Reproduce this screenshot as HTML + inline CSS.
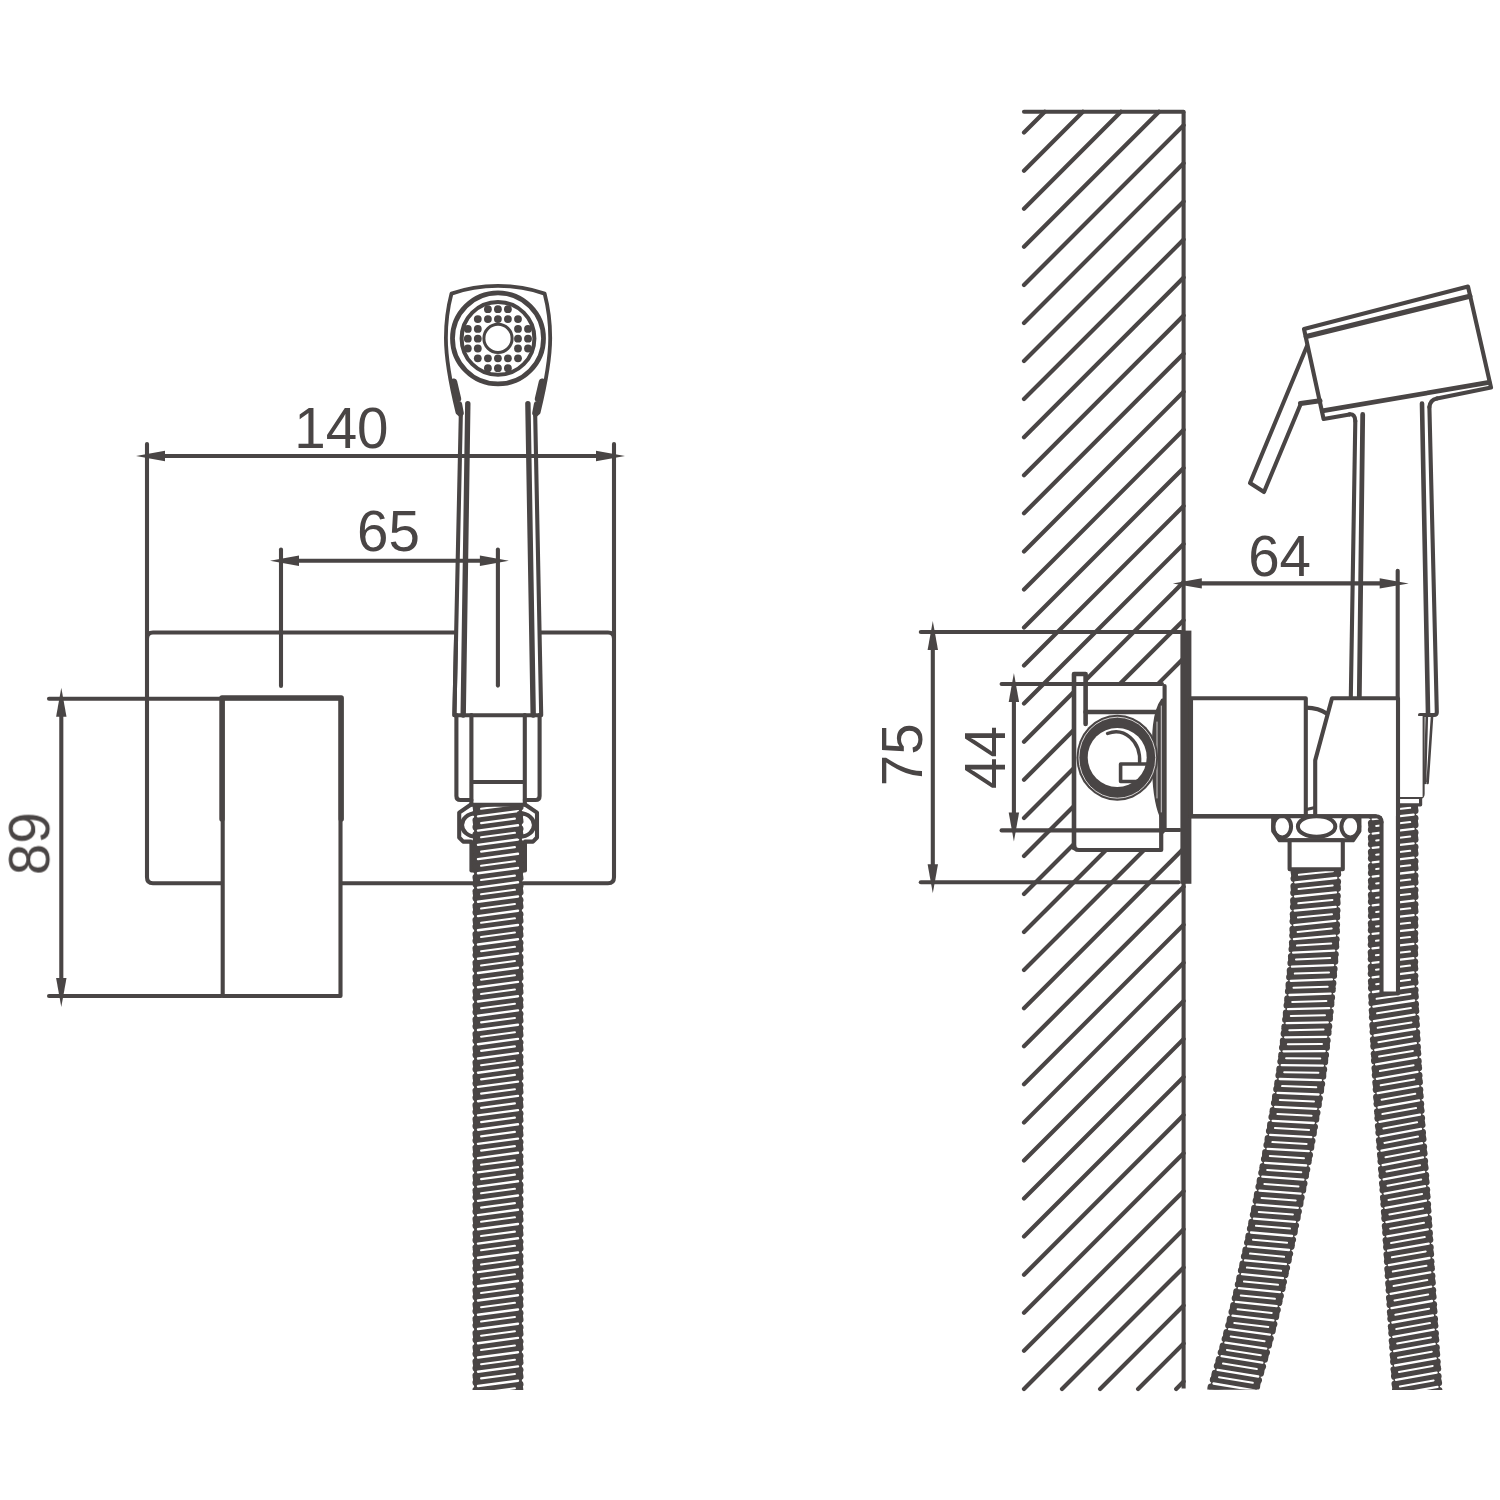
<!DOCTYPE html>
<html lang="en"><head><meta charset="utf-8"><title>Hygienic shower set – dimensional drawing</title>
<style>html,body{margin:0;padding:0;background:#fff}svg{display:block}text{font-family:"Liberation Sans",sans-serif;font-size:56.5px;fill:#4a4544}</style>
</head><body>
<svg width="1500" height="1500" viewBox="0 0 1500 1500">
<rect width="1500" height="1500" fill="#fff"/>
<defs>
<clipPath id="cl1"><rect x="460" y="806" width="80" height="584"/></clipPath>
<clipPath id="cl2"><rect x="1180" y="870" width="200" height="519.5"/></clipPath>
<clipPath id="cl3"><rect x="1350" y="805" width="120" height="584.5"/></clipPath>
<filter id="soft" x="0" y="0" width="1500" height="1500" filterUnits="userSpaceOnUse"><feGaussianBlur stdDeviation="0.42"/></filter>
</defs>
<g filter="url(#soft)">
<!-- front view -->
<path d="M147 444 V877.3 Q147 883.3 153 883.3 H608 Q614 883.3 614 877.3 V444" fill="none" stroke="#4a4544" stroke-width="4.1" stroke-linejoin="round" stroke-linecap="round" />
<path d="M147 638.5 Q147 632.5 153 632.5 H608 Q614 632.5 614 638.5" fill="none" stroke="#4a4544" stroke-width="4.1" stroke-linejoin="round" stroke-linecap="round" />
<rect x="222.7" y="698.3" width="117.8" height="297.7" fill="#fff" stroke="#4a4544" stroke-width="4.1" stroke-linejoin="round"/>
<path d="M222 819 V698 H341.2 V819" fill="none" stroke="#4a4544" stroke-width="5.4" stroke-linejoin="round" stroke-linecap="round" />
<line x1="49" y1="698.8" x2="221" y2="698.8" stroke="#4a4544" stroke-width="4.1" stroke-linecap="round"/>
<line x1="49" y1="996" x2="221" y2="996" stroke="#4a4544" stroke-width="4.1" stroke-linecap="round"/>
<line x1="61.3" y1="705" x2="61.3" y2="990" stroke="#4a4544" stroke-width="4.1" stroke-linecap="round"/>
<polygon points="61.3,687.8 66.5,716.8 56.1,716.8" fill="#4a4544" stroke="none" stroke-width="0" stroke-linejoin="round"/>
<polygon points="61.3,1007 56.1,978 66.5,978" fill="#4a4544" stroke="none" stroke-width="0" stroke-linejoin="round"/>
<polygon points="460.8,414 454.4,715.2 456.4,800 541,800 541.2,715.2 535.2,414" fill="#fff" stroke="none" stroke-width="0" stroke-linejoin="round"/>
<rect x="469.4" y="841.2" width="57.6" height="31.2" rx="2" fill="#4a4544"/>
<g clip-path="url(#cl1)">
<path d="M498 806 L498 809.1 L498 812.5 L498 816.2 L498 820.2 L498 824.5 L498 829.1 L498 833.9 L498 839 L498 844.3 L498 849.8 L498 855.4 L498 861.3 L498 867.3 L498 873.5 L498 879.8 L498 886.2 L498 892.7 L498 899.3 L498 905.9 L498 912.7 L498 919.4 L498 926.2 L498 933 L498 939.8 L498 946.5 L498 953.3 L498 959.9 L498 966.5 L498 973.1 L498 979.5 L498 985.8 L498 992 L498 998 L498 1003.9 L498 1009.9 L498 1015.8 L498 1021.8 L498 1027.7 L498 1033.7 L498 1039.7 L498 1045.7 L498 1051.7 L498 1057.7 L498 1063.7 L498 1069.8 L498 1075.8 L498 1081.8 L498 1087.9 L498 1093.9 L498 1099.9 L498 1106 L498 1112 L498 1118.1 L498 1124.1 L498 1130.1 L498 1136.2 L498 1142.2 L498 1148.2 L498 1154.2 L498 1160.2 L498 1166.2 L498 1172.2 L498 1178.2 L498 1184.2 L498 1190.1 L498 1196 L498 1202 L498 1208 L498 1214.2 L498 1220.6 L498 1227 L498 1233.6 L498 1240.2 L498 1246.9 L498 1253.7 L498 1260.5 L498 1267.3 L498 1274.1 L498 1280.9 L498 1287.7 L498 1294.5 L498 1301.2 L498 1307.8 L498 1314.4 L498 1320.8 L498 1327.1 L498 1333.3 L498 1339.4 L498 1345.3 L498 1351 L498 1356.5 L498 1361.8 L498 1366.9 L498 1371.8 L498 1376.4 L498 1380.7 L498 1384.7 L498 1388.5 L498 1391.9 L498 1395 L498 1395" fill="none" stroke="#4a4544" stroke-width="47.8" stroke-linecap="butt" stroke-linejoin="round"/>
<path d="M475.9 791.9L520.1 786M475.9 798.7L520.1 792.8M475.9 806.1L520.1 800.2M475.9 813L520.1 807.1M475.9 820.4L520.1 814.5M475.9 827.2L520.1 821.3M475.9 834.6L520.1 828.7M475.9 841.4L520.1 835.5M475.9 848.9L520.1 843M475.9 855.7L520.1 849.8M475.9 863.1L520.1 857.2M475.9 869.9L520.1 864M475.9 877.3L520.1 871.4M475.9 884.2L520.1 878.3M475.9 891.6L520.1 885.7M475.9 898.4L520.1 892.5M475.9 905.8L520.1 899.9M475.9 912.6L520.1 906.7M475.9 920.1L520.1 914.2M475.9 926.9L520.1 921M475.9 934.3L520.1 928.4M475.9 941.1L520.1 935.2M475.9 948.5L520.1 942.6M475.9 955.4L520.1 949.5M475.9 962.8L520.1 956.9M475.9 969.6L520.1 963.7M475.9 977L520.1 971.1M475.9 983.8L520.1 977.9M475.9 991.3L520.1 985.4M475.9 998.1L520.1 992.2M475.9 1005.5L520.1 999.6M475.9 1012.3L520.1 1006.4M475.9 1019.7L520.1 1013.8M475.9 1026.6L520.1 1020.7M475.9 1034L520.1 1028.1M475.9 1040.8L520.1 1034.9M475.9 1048.2L520.1 1042.3M475.9 1055L520.1 1049.1M475.9 1062.5L520.1 1056.6M475.9 1069.3L520.1 1063.4M475.9 1076.7L520.1 1070.8M475.9 1083.5L520.1 1077.6M475.9 1090.9L520.1 1085M475.9 1097.8L520.1 1091.9M475.9 1105.2L520.1 1099.3M475.9 1112L520.1 1106.1M475.9 1119.4L520.1 1113.5M475.9 1126.2L520.1 1120.3M475.9 1133.7L520.1 1127.8M475.9 1140.5L520.1 1134.6M475.9 1147.9L520.1 1142M475.9 1154.7L520.1 1148.8M475.9 1162.1L520.1 1156.2M475.9 1169L520.1 1163.1M475.9 1176.4L520.1 1170.5M475.9 1183.2L520.1 1177.3M475.9 1190.6L520.1 1184.7M475.9 1197.4L520.1 1191.5M475.9 1204.9L520.1 1199M475.9 1211.7L520.1 1205.8M475.9 1219.1L520.1 1213.2M475.9 1225.9L520.1 1220M475.9 1233.3L520.1 1227.4M475.9 1240.2L520.1 1234.3M475.9 1247.6L520.1 1241.7M475.9 1254.4L520.1 1248.5M475.9 1261.8L520.1 1255.9M475.9 1268.6L520.1 1262.7M475.9 1276.1L520.1 1270.2M475.9 1282.9L520.1 1277M475.9 1290.3L520.1 1284.4M475.9 1297.1L520.1 1291.2M475.9 1304.5L520.1 1298.6M475.9 1311.4L520.1 1305.5M475.9 1318.8L520.1 1312.9M475.9 1325.6L520.1 1319.7M475.9 1333L520.1 1327.1M475.9 1339.8L520.1 1333.9M475.9 1347.3L520.1 1341.4M475.9 1354.1L520.1 1348.2M475.9 1361.5L520.1 1355.6M475.9 1368.3L520.1 1362.4M475.9 1375.7L520.1 1369.8M475.9 1382.6L520.1 1376.7M475.9 1390L520.1 1384.1M475.9 1396.8L520.1 1390.9M475.9 1404.2L520.1 1398.3M475.9 1411L520.1 1405.1M475.9 1418.5L520.1 1412.6M475.9 1425.3L520.1 1419.4M475.9 1432.7L520.1 1426.8M475.9 1439.5L520.1 1433.6" fill="none" stroke="#4a4544" stroke-width="6.8" stroke-linecap="round"/>
<path d="M473 795.7L523 789M473 809.9L523 803.3M473 824.2L523 817.5M473 838.4L523 831.7M473 852.7L523 846M473 866.9L523 860.2M473 881.1L523 874.5M473 895.4L523 888.7M473 909.6L523 902.9M473 923.9L523 917.2M473 938.1L523 931.4M473 952.3L523 945.7M473 966.6L523 959.9M473 980.8L523 974.1M473 995.1L523 988.4M473 1009.3L523 1002.6M473 1023.5L523 1016.9M473 1037.8L523 1031.1M473 1052L523 1045.3M473 1066.3L523 1059.6M473 1080.5L523 1073.8M473 1094.7L523 1088.1M473 1109L523 1102.3M473 1123.2L523 1116.5M473 1137.5L523 1130.8M473 1151.7L523 1145M473 1165.9L523 1159.3M473 1180.2L523 1173.5M473 1194.4L523 1187.7M473 1208.7L523 1202M473 1222.9L523 1216.2M473 1237.1L523 1230.5M473 1251.4L523 1244.7M473 1265.6L523 1258.9M473 1279.9L523 1273.2M473 1294.1L523 1287.4M473 1308.3L523 1301.7M473 1322.6L523 1315.9M473 1336.8L523 1330.1M473 1351.1L523 1344.4M473 1365.3L523 1358.6M473 1379.5L523 1372.9M473 1393.8L523 1387.1M473 1408L523 1401.3M473 1422.3L523 1415.6M473 1436.5L523 1429.8" fill="none" stroke="#4a4544" stroke-width="5" stroke-linecap="butt"/>
<path d="M478 802.1L518 796.8M478 816.4L518 811.1M478 830.6L518 825.3M478 844.9L518 839.5M478 859.1L518 853.8M478 873.3L518 868M478 887.6L518 882.3M478 901.8L518 896.5M478 916.1L518 910.7M478 930.3L518 925M478 944.5L518 939.2M478 958.8L518 953.5M478 973L518 967.7M478 987.3L518 981.9M478 1001.5L518 996.2M478 1015.7L518 1010.4M478 1030L518 1024.7M478 1044.2L518 1038.9M478 1058.5L518 1053.1M478 1072.7L518 1067.4M478 1086.9L518 1081.6M478 1101.2L518 1095.9M478 1115.4L518 1110.1M478 1129.7L518 1124.3M478 1143.9L518 1138.6M478 1158.1L518 1152.8M478 1172.4L518 1167.1M478 1186.6L518 1181.3M478 1200.9L518 1195.5M478 1215.1L518 1209.8M478 1229.3L518 1224M478 1243.6L518 1238.3M478 1257.8L518 1252.5M478 1272.1L518 1266.7M478 1286.3L518 1281M478 1300.5L518 1295.2M478 1314.8L518 1309.5M478 1329L518 1323.7M478 1343.3L518 1337.9M478 1357.5L518 1352.2M478 1371.7L518 1366.4M478 1386L518 1380.7M478 1400.2L518 1394.9M478 1414.5L518 1409.1M478 1428.7L518 1423.4M478 1442.9L518 1437.6" fill="none" stroke="#fff" stroke-width="2.4" stroke-linecap="round"/>
<path d="M481.1 794.6L514.9 790.1M481.1 808.8L514.9 804.4M481.1 823.1L514.9 818.6M481.1 837.3L514.9 832.8M481.1 851.6L514.9 847.1M481.1 865.8L514.9 861.3M481.1 880L514.9 875.6M481.1 894.3L514.9 889.8M481.1 908.5L514.9 904M481.1 922.8L514.9 918.3M481.1 937L514.9 932.5M481.1 951.2L514.9 946.8M481.1 965.5L514.9 961M481.1 979.7L514.9 975.2M481.1 994L514.9 989.5M481.1 1008.2L514.9 1003.7M481.1 1022.4L514.9 1018M481.1 1036.7L514.9 1032.2M481.1 1050.9L514.9 1046.4M481.1 1065.2L514.9 1060.7M481.1 1079.4L514.9 1074.9M481.1 1093.6L514.9 1089.2M481.1 1107.9L514.9 1103.4M481.1 1122.1L514.9 1117.6M481.1 1136.4L514.9 1131.9M481.1 1150.6L514.9 1146.1M481.1 1164.8L514.9 1160.4M481.1 1179.1L514.9 1174.6M481.1 1193.3L514.9 1188.8M481.1 1207.6L514.9 1203.1M481.1 1221.8L514.9 1217.3M481.1 1236L514.9 1231.6M481.1 1250.3L514.9 1245.8M481.1 1264.5L514.9 1260M481.1 1278.8L514.9 1274.3M481.1 1293L514.9 1288.5M481.1 1307.2L514.9 1302.8M481.1 1321.5L514.9 1317M481.1 1335.7L514.9 1331.2M481.1 1350L514.9 1345.5M481.1 1364.2L514.9 1359.7M481.1 1378.4L514.9 1374M481.1 1392.7L514.9 1388.2M481.1 1406.9L514.9 1402.4M481.1 1421.2L514.9 1416.7M481.1 1435.4L514.9 1430.9" fill="none" stroke="#fff" stroke-width="2.1" stroke-linecap="round"/>
</g>
<path d="M456.4 715 V796 Q456.4 800 460.4 800 H471.4 M539.6 715 V796 Q539.6 800 535.6 800 H524.8" fill="none" stroke="#4a4544" stroke-width="4.1" stroke-linejoin="round" stroke-linecap="round" />
<path d="M471.4 715 V804.7 H524.8 V715 M471.4 782 H524.8" fill="none" stroke="#4a4544" stroke-width="4.1" stroke-linejoin="round" stroke-linecap="round" />
<path d="M471 804.5 L459.2 812.6 V837.5 L463.2 841.6 H471 M525 804.5 L537 812.6 V837.5 L533 841.6 H525" fill="none" stroke="#4a4544" stroke-width="4.1" stroke-linejoin="round" stroke-linecap="round" />
<path d="M477 813.2 C457 813.5 457 836.5 477 836.8 M519 813.2 C539 813.5 539 836.5 519 836.8" fill="none" stroke="#4a4544" stroke-width="4.2" stroke-linejoin="round" stroke-linecap="round" />
<line x1="456" y1="640" x2="454.4" y2="715.2" stroke="#4a4544" stroke-width="4.1" stroke-linecap="round"/>
<path d="M460.8 415.5 L454.4 715.2 H541.2 L535.2 415.5" fill="none" stroke="#4a4544" stroke-width="4.1" stroke-linejoin="round" stroke-linecap="round" />
<path d="M467.8 403.6 L463.2 715" fill="none" stroke="#4a4544" stroke-width="5.4" stroke-linejoin="round" stroke-linecap="round" />
<path d="M527.9 403.6 L533.2 715" fill="none" stroke="#4a4544" stroke-width="5.4" stroke-linejoin="round" stroke-linecap="round" />
<path d="M460.8 415.5 L457.5 412.5 C451.5 388 445.9 362 445.9 338 C445.9 320 448.5 305 451.5 293.6 C480 283.2 516 283.2 544.6 293.6 C547.6 305 550.2 320 550.2 338 C550.2 362 544.6 388 538.6 412.5 L535.2 415.5" fill="none" stroke="#4a4544" stroke-width="3.8" stroke-linejoin="round" stroke-linecap="round" />
<path d="M453.9 381.8 L457.9 398.8" fill="none" stroke="#4a4544" stroke-width="6.6" stroke-linejoin="round" stroke-linecap="round" />
<path d="M459.3 404 L461 413" fill="none" stroke="#4a4544" stroke-width="5.6" stroke-linejoin="round" stroke-linecap="round" />
<path d="M542.1 381.8 L538.1 398.8" fill="none" stroke="#4a4544" stroke-width="6.6" stroke-linejoin="round" stroke-linecap="round" />
<path d="M536.7 404 L535 413" fill="none" stroke="#4a4544" stroke-width="5.6" stroke-linejoin="round" stroke-linecap="round" />
<circle cx="498" cy="338.4" r="45.5" fill="none" stroke="#4a4544" stroke-width="4.8"/>
<circle cx="498" cy="338.4" r="36.4" fill="none" stroke="#4a4544" stroke-width="4"/>
<circle cx="498" cy="338.4" r="14.1" fill="none" stroke="#4a4544" stroke-width="3"/>
<circle cx="487.9" cy="309.2" r="3.9" fill="#4a4544"/>
<circle cx="497.9" cy="309.2" r="3.9" fill="#4a4544"/>
<circle cx="507.9" cy="309.2" r="3.9" fill="#4a4544"/>
<circle cx="477.8" cy="319.1" r="3.9" fill="#4a4544"/>
<circle cx="487.9" cy="319.1" r="3.9" fill="#4a4544"/>
<circle cx="497.9" cy="319.1" r="3.9" fill="#4a4544"/>
<circle cx="507.9" cy="319.1" r="3.9" fill="#4a4544"/>
<circle cx="518" cy="319.1" r="3.9" fill="#4a4544"/>
<circle cx="467.8" cy="328.9" r="3.9" fill="#4a4544"/>
<circle cx="477.8" cy="328.9" r="3.9" fill="#4a4544"/>
<circle cx="518" cy="328.9" r="3.9" fill="#4a4544"/>
<circle cx="528" cy="328.9" r="3.9" fill="#4a4544"/>
<circle cx="467.8" cy="338.7" r="3.9" fill="#4a4544"/>
<circle cx="477.8" cy="338.7" r="3.9" fill="#4a4544"/>
<circle cx="518" cy="338.7" r="3.9" fill="#4a4544"/>
<circle cx="528" cy="338.7" r="3.9" fill="#4a4544"/>
<circle cx="467.8" cy="348.5" r="3.9" fill="#4a4544"/>
<circle cx="477.8" cy="348.5" r="3.9" fill="#4a4544"/>
<circle cx="518" cy="348.5" r="3.9" fill="#4a4544"/>
<circle cx="528" cy="348.5" r="3.9" fill="#4a4544"/>
<circle cx="477.8" cy="358.3" r="3.9" fill="#4a4544"/>
<circle cx="487.9" cy="358.3" r="3.9" fill="#4a4544"/>
<circle cx="497.9" cy="358.3" r="3.9" fill="#4a4544"/>
<circle cx="507.9" cy="358.3" r="3.9" fill="#4a4544"/>
<circle cx="518" cy="358.3" r="3.9" fill="#4a4544"/>
<circle cx="487.9" cy="368.2" r="3.9" fill="#4a4544"/>
<circle cx="497.9" cy="368.2" r="3.9" fill="#4a4544"/>
<circle cx="507.9" cy="368.2" r="3.9" fill="#4a4544"/>
<line x1="152" y1="456" x2="609" y2="456" stroke="#4a4544" stroke-width="4.1" stroke-linecap="round"/>
<polygon points="136,456 165,450.8 165,461.2" fill="#4a4544" stroke="none" stroke-width="0" stroke-linejoin="round"/>
<polygon points="625,456 596,461.2 596,450.8" fill="#4a4544" stroke="none" stroke-width="0" stroke-linejoin="round"/>
<line x1="281" y1="549.6" x2="281" y2="686" stroke="#4a4544" stroke-width="4.1" stroke-linecap="round"/>
<line x1="286" y1="560.8" x2="493" y2="560.8" stroke="#4a4544" stroke-width="4.1" stroke-linecap="round"/>
<polygon points="270,560.8 299,555.6 299,566" fill="#4a4544" stroke="none" stroke-width="0" stroke-linejoin="round"/>
<polygon points="508.9,560.8 479.9,566 479.9,555.6" fill="#4a4544" stroke="none" stroke-width="0" stroke-linejoin="round"/>
<line x1="497.9" y1="549.5" x2="497.9" y2="685.6" stroke="#4a4544" stroke-width="4.1" stroke-linecap="round"/>
<text x="341.4" y="448.1" text-anchor="middle">140</text>
<text x="388.5" y="551" text-anchor="middle">65</text>
<text transform="translate(49.2 843.6) rotate(-90)" text-anchor="middle">89</text>
<!-- side view -->
<path d="M1024 132.6L1044.8 111.8M1024 170.7L1082.9 111.8M1024 208.7L1120.9 111.8M1024 246.8L1159 111.8M1024 284.9L1183.6 125.3M1024 322.9L1183.6 163.3M1024 361L1183.6 201.4M1024 399.1L1183.6 239.5M1024 437.2L1183.6 277.6M1024 475.2L1183.6 315.6M1024 513.3L1183.6 353.7M1024 551.4L1183.6 391.8M1024 589.4L1183.6 429.8M1024 627.5L1183.6 467.9M1024 665.6L1183.6 506M1024 703.6L1183.6 544M1024 741.7L1183.6 582.1M1024 779.8L1183.6 620.2M1024 817.9L1183.6 658.3M1024 855.9L1183.6 696.3M1024 894L1183.6 734.4M1024 932.1L1183.6 772.5M1024 970.1L1183.6 810.5M1024 1008.2L1183.6 848.6M1024 1046.3L1183.6 886.7M1024 1084.3L1183.6 924.8M1024 1122.4L1183.6 962.8M1024 1160.5L1183.6 1000.9M1024 1198.6L1183.6 1039M1024 1236.6L1183.6 1077M1024 1274.7L1183.6 1115.1M1024 1312.8L1183.6 1153.2M1024 1350.8L1183.6 1191.2M1024 1388.9L1183.6 1229.3M1062 1389L1183.6 1267.4M1100.1 1389L1183.6 1305.5M1138.1 1389L1183.6 1343.5M1176.2 1389L1183.6 1381.6" fill="none" stroke="#4a4544" stroke-width="4.2" stroke-linecap="round"/>
<line x1="1024" y1="111.8" x2="1183.6" y2="111.8" stroke="#4a4544" stroke-width="4.1" stroke-linecap="round"/>
<line x1="1183.6" y1="111.8" x2="1183.6" y2="1388.5" stroke="#4a4544" stroke-width="4.1" stroke-linecap="butt"/>
<polygon points="1072.2,672 1087,672 1087,684 1181,684 1181,831 1163,831 1163,851.5 1072.2,851.5" fill="#fff" stroke="none" stroke-width="0" stroke-linejoin="round"/>
<line x1="920.8" y1="632" x2="1181" y2="632" stroke="#4a4544" stroke-width="4.1" stroke-linecap="round"/>
<line x1="920.8" y1="882.2" x2="1178.6" y2="882.2" stroke="#4a4544" stroke-width="4.1" stroke-linecap="round"/>
<line x1="932.8" y1="638" x2="932.8" y2="876" stroke="#4a4544" stroke-width="4.1" stroke-linecap="round"/>
<polygon points="932.8,621 938,650 927.6,650" fill="#4a4544" stroke="none" stroke-width="0" stroke-linejoin="round"/>
<polygon points="932.8,893.2 927.6,864.2 938,864.2" fill="#4a4544" stroke="none" stroke-width="0" stroke-linejoin="round"/>
<line x1="1001.6" y1="684" x2="1162" y2="684" stroke="#4a4544" stroke-width="4.1" stroke-linecap="round"/>
<line x1="1001.6" y1="830.4" x2="1163" y2="830.4" stroke="#4a4544" stroke-width="4.1" stroke-linecap="round"/>
<line x1="1013.9" y1="690" x2="1013.9" y2="824" stroke="#4a4544" stroke-width="4.1" stroke-linecap="round"/>
<polygon points="1013.9,673 1019.1,702 1008.7,702" fill="#4a4544" stroke="none" stroke-width="0" stroke-linejoin="round"/>
<polygon points="1013.9,841.4 1008.7,812.4 1019.1,812.4" fill="#4a4544" stroke="none" stroke-width="0" stroke-linejoin="round"/>
<rect x="1180.4" y="630.6" width="11" height="253.2" fill="#4a4544"/>
<path d="M1074 848 V674 H1085.6 V724" fill="none" stroke="#4a4544" stroke-width="4.6" stroke-linejoin="round" stroke-linecap="round" />
<path d="M1074 845 Q1074 850 1079 850 H1161.2 V813" fill="none" stroke="#4a4544" stroke-width="4.2" stroke-linejoin="round" stroke-linecap="round" />
<path d="M1085.6 712 H1157" fill="none" stroke="#4a4544" stroke-width="4.6" stroke-linejoin="round" stroke-linecap="round" />
<path d="M1164.6 686 V830 H1179.8" fill="none" stroke="#4a4544" stroke-width="4.1" stroke-linejoin="round" stroke-linecap="round" />
<path d="M1162 699.5 C1153 712 1152.6 735 1152.8 760 C1153 790 1156 806 1160.6 816.5 L1164.6 816.5 L1164.6 699.5 Z" fill="#4a4544" stroke="#4a4544" stroke-width="2" stroke-linejoin="round" stroke-linecap="round" />
<path d="M1157 722 V798" fill="none" stroke="#dddada" stroke-width="0.9" stroke-linejoin="round" stroke-linecap="round" />
<path d="M1161.3 706 V812" fill="none" stroke="#dddada" stroke-width="0.9" stroke-linejoin="round" stroke-linecap="round" />
<ellipse cx="1117.3" cy="757.7" rx="40.8" ry="43" fill="#4a4544"/>
<ellipse cx="1117.3" cy="757.7" rx="38.4" ry="40.5" fill="none" stroke="#e4e2e2" stroke-width="0.9"/>
<circle cx="1117.2" cy="757.4" r="29.5" fill="#fff"/>
<path d="M1107.5 733.5 C1124 727 1141 741 1139.6 763" fill="none" stroke="#4a4544" stroke-width="3.4" stroke-linejoin="round" stroke-linecap="round" />
<path d="M1148 764 H1120.6 V781.5 H1141" fill="none" stroke="#4a4544" stroke-width="3.6" stroke-linejoin="round" stroke-linecap="round" />
<rect x="1191" y="698.3" width="114.8" height="118" fill="#fff" stroke="#4a4544" stroke-width="4.1" stroke-linejoin="round"/>
<path d="M1306 707.6 C1314 707.6 1322 710 1327.5 714" fill="none" stroke="#4a4544" stroke-width="4.1" stroke-linejoin="round" stroke-linecap="round" />
<path d="M1306.5 809.5 L1315 807.5" fill="none" stroke="#4a4544" stroke-width="3" stroke-linejoin="round" stroke-linecap="round" />
<g clip-path="url(#cl3)">
<path d="M1393.2 806 L1393.2 809.1 L1393.2 812.9 L1393.2 817.2 L1393.2 822.1 L1393.2 827.3 L1393.2 833 L1393.2 838.9 L1393.2 845.1 L1393.2 851.5 L1393.2 858 L1393.2 864.5 L1393.2 871.1 L1393.2 877.6 L1393.2 884 L1393.2 890.2 L1393.2 896.2 L1393.2 901.9 L1393.2 907.4 L1393.2 913 L1393.1 918.4 L1393.1 923.9 L1393.1 929.3 L1393 934.8 L1393 940.2 L1393 945.7 L1393 951.2 L1392.9 956.7 L1393 962.2 L1393 967.8 L1393 973.5 L1393.1 979.3 L1393.2 985.1 L1393.3 991 L1393.5 997 L1393.7 1003.2 L1393.9 1009.4 L1394.2 1015.7 L1394.4 1022.1 L1394.7 1028.6 L1395 1035.1 L1395.4 1041.7 L1395.7 1048.3 L1396 1054.8 L1396.4 1061.4 L1396.8 1068 L1397.1 1074.5 L1397.5 1081 L1397.9 1087.4 L1398.2 1093.7 L1398.6 1100 L1399 1106.2 L1399.4 1112.3 L1399.8 1118.4 L1400.2 1124.5 L1400.6 1130.5 L1401 1136.5 L1401.4 1142.5 L1401.9 1148.5 L1402.3 1154.4 L1402.7 1160.3 L1403.2 1166.3 L1403.6 1172.2 L1404 1178.1 L1404.4 1184.1 L1404.8 1190 L1405.2 1196 L1405.6 1202 L1406 1208 L1406.4 1214 L1406.8 1220.1 L1407.1 1226.1 L1407.5 1232.2 L1407.8 1238.2 L1408.2 1244.3 L1408.6 1250.3 L1408.9 1256.3 L1409.3 1262.4 L1409.6 1268.4 L1410 1274.4 L1410.3 1280.3 L1410.7 1286.3 L1411 1292.2 L1411.4 1298 L1411.7 1304 L1412.1 1310.1 L1412.5 1316.5 L1412.9 1323 L1413.3 1329.6 L1413.8 1336.3 L1414.2 1342.9 L1414.6 1349.5 L1415 1355.9 L1415.4 1362.1 L1415.8 1368 L1416.1 1373.6 L1416.5 1378.9 L1416.8 1383.7 L1417.1 1388 L1417.3 1391.8 L1417.5 1395 L1417.5 1395" fill="none" stroke="#4a4544" stroke-width="45.8" stroke-linecap="butt" stroke-linejoin="round"/>
<path d="M1371.3 794.4L1415.1 789.4M1371.3 801.3L1415.1 796.3M1371.3 808.8L1415.1 803.8M1371.3 815.6L1415.1 810.7M1371.3 823.1L1415.1 818.1M1371.3 830L1415.1 825M1371.3 837.5L1415.1 832.5M1371.3 844.3L1415.1 839.4M1371.3 851.8L1415.1 846.9M1371.3 858.7L1415.1 853.7M1371.3 866.2L1415.1 861.2M1371.3 873.1L1415.1 868.1M1371.3 880.6L1415.1 875.6M1371.3 887.4L1415.1 882.4M1371.3 894.9L1415.1 889.9M1371.3 901.8L1415.1 896.8M1371.3 909.2L1415.1 904.3M1371.3 916.1L1415.1 911.3M1371.2 923.5L1415 918.8M1371.2 930.4L1415 925.7M1371.1 937.8L1414.9 933.2M1371.1 944.8L1414.9 940M1371.1 952.3L1414.9 947.4M1371.1 959.2L1414.8 954.2M1371.1 966.8L1414.8 961.6M1371.1 973.8L1414.9 968.4M1371.3 981.4L1415 975.8M1371.4 988.4L1415.1 982.5M1371.6 996L1415.2 989.9M1371.8 1003L1415.4 996.6M1372.1 1010.6L1415.6 1004M1372.3 1017.5L1415.9 1010.8M1372.7 1025.1L1416.2 1018.2M1373 1032L1416.5 1025M1373.3 1039.5L1416.8 1032.4M1373.7 1046.4L1417.2 1039.3M1374.1 1054L1417.5 1046.7M1374.4 1060.9L1417.9 1053.5M1374.9 1068.4L1418.3 1061M1375.2 1075.3L1418.7 1067.8M1375.7 1082.7L1419.1 1075.3M1376.1 1089.6L1419.5 1082.1M1376.5 1097.1L1419.9 1089.6M1376.9 1104L1420.3 1096.4M1377.4 1111.5L1420.8 1103.8M1377.8 1118.4L1421.2 1110.6M1378.3 1126L1421.7 1118M1378.8 1132.9L1422.1 1124.9M1379.3 1140.4L1422.6 1132.3M1379.8 1147.3L1423.1 1139.1M1380.4 1154.7L1423.7 1146.6M1380.9 1161.6L1424.2 1153.4M1381.4 1169L1424.7 1160.9M1381.9 1175.9L1425.2 1167.8M1382.4 1183.3L1425.8 1175.3M1382.9 1190.2L1426.2 1182.2M1383.4 1197.6L1426.8 1189.7M1383.8 1204.4L1427.2 1196.6M1384.3 1211.8L1427.7 1204.1M1384.7 1218.7L1428.1 1211M1385.2 1226.1L1428.6 1218.5M1385.6 1232.9L1429 1225.4M1386 1240.4L1429.5 1232.8M1386.5 1247.3L1429.9 1239.7M1386.9 1254.7L1430.3 1247.2M1387.3 1261.6L1430.7 1254.1M1387.7 1269.1L1431.1 1261.5M1388.1 1275.9L1431.5 1268.4M1388.6 1283.4L1432 1275.8M1389 1290.3L1432.4 1282.7M1389.4 1297.8L1432.8 1290.1M1389.9 1304.7L1433.2 1297M1390.3 1312.1L1433.7 1304.4M1390.7 1319L1434.1 1311.3M1391.2 1326.5L1434.6 1318.8M1391.7 1333.4L1435 1325.6M1392.1 1340.8L1435.5 1333.1M1392.6 1347.7L1435.9 1339.9M1393 1355.2L1436.4 1347.4M1393.5 1362L1436.8 1354.3M1393.9 1369.5L1437.3 1361.7M1394.4 1376.4L1437.8 1368.6M1394.9 1383.8L1438.2 1376.1M1395.3 1390.7L1438.7 1382.9M1395.8 1398.1L1439.1 1390.4M1396.2 1405L1439.6 1397.3M1396.7 1412.5L1440 1404.7M1397.1 1419.3L1440.5 1411.6M1397.6 1426.8L1441 1419.1M1398 1433.7L1441.4 1425.9M1398.5 1441.1L1441.9 1433.4M1398.9 1448L1442.3 1440.3" fill="none" stroke="#4a4544" stroke-width="6.8" stroke-linecap="round"/>
<path d="M1368.4 798.2L1418 792.5M1368.4 812.5L1418 806.9M1368.4 826.9L1418 821.2M1368.4 841.2L1418 835.6M1368.4 855.6L1418 850M1368.4 870L1418 864.3M1368.4 884.3L1418 878.7M1368.4 898.7L1418 893M1368.4 913L1418 907.5M1368.3 927.2L1417.9 921.9M1368.2 941.6L1417.8 936.3M1368.1 956.1L1417.8 950.5M1368.2 970.6L1417.8 964.7M1368.4 985.3L1417.9 978.8M1368.8 999.9L1418.2 992.8M1369.3 1014.5L1418.7 1007M1369.9 1029L1419.2 1021.2M1370.6 1043.5L1419.9 1035.4M1371.4 1057.9L1420.6 1049.6M1372.2 1072.3L1421.4 1063.9M1373 1086.7L1422.2 1078.2M1373.8 1101L1423 1092.5M1374.7 1115.5L1423.8 1106.7M1375.7 1129.9L1424.8 1120.9M1376.7 1144.3L1425.8 1135.2M1377.7 1158.7L1426.8 1149.5M1378.8 1173L1427.8 1163.8M1379.8 1187.3L1428.9 1178.2M1380.7 1201.5L1429.9 1192.6M1381.6 1215.7L1430.8 1207M1382.5 1230L1431.7 1221.4M1383.4 1244.3L1432.5 1235.8M1384.2 1258.7L1433.4 1250.1M1385 1273L1434.2 1264.5M1385.9 1287.3L1435.1 1278.8M1386.8 1301.7L1435.9 1293.1M1387.6 1316.1L1436.8 1307.4M1388.5 1330.4L1437.7 1321.7M1389.5 1344.8L1438.6 1336M1390.4 1359.1L1439.5 1350.3M1391.3 1373.4L1440.4 1364.7M1392.2 1387.8L1441.3 1379M1393.1 1402.1L1442.2 1393.3M1394 1416.4L1443.1 1407.7M1394.9 1430.8L1444.1 1422M1395.8 1445.1L1445 1436.3" fill="none" stroke="#4a4544" stroke-width="5" stroke-linecap="butt"/>
<path d="M1372.8 804.8L1413.7 800.2M1372.7 819.2L1413.6 814.6M1372.7 833.6L1413.6 828.9M1372.7 847.9L1413.6 843.3M1372.7 862.3L1413.6 857.6M1372.7 876.7L1413.6 872M1372.7 891L1413.6 886.3M1372.7 905.4L1413.7 900.7M1372.7 919.6L1413.6 915.2M1372.6 933.9L1413.5 929.6M1372.5 948.4L1413.4 943.9M1372.5 962.9L1413.4 958.1M1372.6 977.4L1413.5 972.3M1372.9 992L1413.7 986.4M1373.4 1006.6L1414.1 1000.5M1373.9 1021.1L1414.6 1014.7M1374.6 1035.5L1415.2 1029M1375.3 1050L1415.9 1043.2M1376.1 1064.4L1416.7 1057.5M1376.9 1078.8L1417.5 1071.8M1377.7 1093.1L1418.3 1086.1M1378.6 1107.5L1419.1 1100.4M1379.5 1121.9L1420 1114.6M1380.5 1136.4L1421 1128.8M1381.5 1150.7L1422 1143.1M1382.6 1165.1L1423 1157.4M1383.6 1179.3L1424.1 1171.8M1384.6 1193.6L1425.1 1186.2M1385.5 1207.8L1426 1200.6M1386.4 1222.1L1426.9 1215M1387.3 1236.4L1427.8 1229.3M1388.1 1250.7L1428.7 1243.7M1388.9 1265.1L1429.5 1258M1389.8 1279.4L1430.3 1272.4M1390.6 1293.8L1431.2 1286.7M1391.5 1308.1L1432 1301M1392.4 1322.5L1432.9 1315.3M1393.3 1336.8L1433.8 1329.6M1394.2 1351.2L1434.7 1343.9M1395.1 1365.5L1435.7 1358.3M1396 1379.8L1436.6 1372.6M1397 1394.2L1437.5 1386.9M1397.9 1408.5L1438.4 1401.3M1398.8 1422.8L1439.3 1415.6M1399.7 1437.2L1440.2 1429.9M1400.6 1451.5L1441.1 1444.3" fill="none" stroke="#fff" stroke-width="2.3" stroke-linecap="round"/>
<path d="M1376.2 797.3L1410.2 793.4M1376.2 811.6L1410.2 807.8M1376.2 826L1410.2 822.1M1376.2 840.4L1410.2 836.5M1376.2 854.7L1410.2 850.8M1376.2 869.1L1410.2 865.2M1376.2 883.4L1410.2 879.6M1376.2 897.8L1410.2 893.9M1376.2 912.1L1410.2 908.3M1376.1 926.4L1410.1 922.8M1376 940.8L1410 937.1M1375.9 955.2L1410 951.4M1376 969.7L1410 965.6M1376.2 984.2L1410.1 979.8M1376.6 998.8L1410.4 993.9M1377.1 1013.3L1410.9 1008.1M1377.7 1027.8L1411.5 1022.4M1378.4 1042.2L1412.1 1036.6M1379.1 1056.6L1412.9 1050.9M1379.9 1071L1413.6 1065.2M1380.7 1085.3L1414.4 1079.5M1381.6 1099.7L1415.3 1093.8M1382.4 1114.1L1416.1 1108.1M1383.4 1128.5L1417.1 1122.3M1384.4 1142.9L1418 1136.6M1385.5 1157.3L1419.1 1150.9M1386.5 1171.6L1420.1 1165.2M1387.5 1185.8L1421.2 1179.6M1388.5 1200.1L1422.1 1194M1389.4 1214.4L1423.1 1208.4M1390.2 1228.7L1424 1222.8M1391.1 1243L1424.8 1237.1M1391.9 1257.3L1425.7 1251.5M1392.8 1271.6L1426.5 1265.8M1393.6 1286L1427.3 1280.1M1394.5 1300.4L1428.2 1294.4M1395.4 1314.7L1429.1 1308.7M1396.3 1329.1L1430 1323.1M1397.2 1343.4L1430.9 1337.4M1398.1 1357.7L1431.8 1351.7M1399 1372.1L1432.7 1366M1399.9 1386.4L1433.6 1380.4M1400.8 1400.7L1434.5 1394.7M1401.7 1415L1435.4 1409M1402.6 1429.4L1436.3 1423.4M1403.5 1443.7L1437.2 1437.7" fill="none" stroke="#fff" stroke-width="2.0" stroke-linecap="round"/>
</g>
<g clip-path="url(#cl2)">
<path d="M1316 868 L1316 870.2 L1315.9 872.9 L1315.9 876.1 L1315.8 879.6 L1315.7 883.5 L1315.6 887.6 L1315.6 891.9 L1315.5 896.3 L1315.4 900.7 L1315.3 905 L1315.2 909.2 L1315.1 913.1 L1314.9 916.8 L1314.9 920.1 L1314.8 923.2 L1314.7 926.2 L1314.7 929.1 L1314.6 932 L1314.5 935 L1314.4 938.1 L1314.3 941.6 L1314.1 945.4 L1313.8 949.7 L1313.4 954.5 L1313 960 L1312.5 966.2 L1311.9 973.1 L1311.2 980.6 L1310.5 988.6 L1309.7 997 L1308.9 1005.6 L1308 1014.4 L1307.2 1023.2 L1306.2 1031.9 L1305.3 1040.4 L1304.4 1048.6 L1303.5 1056.3 L1302.5 1063.6 L1301.6 1070.7 L1300.6 1077.6 L1299.5 1084.4 L1298.5 1091.1 L1297.4 1097.7 L1296.3 1104.1 L1295.2 1110.4 L1294.2 1116.6 L1293.1 1122.6 L1292 1128.5 L1291 1134.3 L1290 1140 L1289 1145.5 L1288.1 1150.7 L1287.2 1155.8 L1286.2 1160.7 L1285.3 1165.4 L1284.4 1170.1 L1283.5 1174.7 L1282.7 1179.2 L1281.8 1183.8 L1280.8 1188.3 L1279.9 1192.9 L1279 1197.6 L1278 1202.4 L1277.1 1207.1 L1276.1 1211.8 L1275.2 1216.5 L1274.2 1221.2 L1273.3 1225.9 L1272.3 1230.6 L1271.3 1235.3 L1270.3 1240.1 L1269.3 1244.9 L1268.2 1249.8 L1267.1 1254.9 L1266 1260 L1264.8 1265.3 L1263.7 1270.7 L1262.5 1276.2 L1261.2 1281.8 L1260 1287.5 L1258.7 1293.3 L1257.4 1299 L1256.1 1304.8 L1254.8 1310.5 L1253.4 1316.2 L1252.1 1321.8 L1250.7 1327.3 L1249.3 1332.7 L1247.8 1338.4 L1246.2 1344.4 L1244.5 1350.4 L1242.8 1356.5 L1241 1362.5 L1239.3 1368.3 L1237.7 1373.9 L1236.1 1379.2 L1234.7 1384 L1233.4 1388.3 L1232.4 1392 L1231.5 1395 L1231.5 1395" fill="none" stroke="#4a4544" stroke-width="45.8" stroke-linecap="butt" stroke-linejoin="round"/>
<path d="M1294.3 857.5L1338.2 853M1294.2 864.4L1338.1 859.9M1294 871.8L1337.9 867.3M1293.9 878.7L1337.8 874.1M1293.8 886.2L1337.7 881.6M1293.6 893L1337.5 888.5M1293.5 900.4L1337.4 895.9M1293.3 907.2L1337.2 902.9M1293.1 914.5L1337.1 910.4M1292.9 921.5L1336.8 917.2M1292.8 929.1L1336.7 924.5M1292.6 935.7L1336.6 931.5M1292.3 942.7L1336.3 939.4M1291.9 949.2L1335.9 946.6M1291.3 956.3L1335.4 954.3M1290.8 963L1334.9 961.3M1290.1 970.4L1334.2 968.8M1289.5 977.2L1333.7 975.6M1288.9 984.5L1333 983.1M1288.3 991.3L1332.4 990M1287.6 998.7L1331.7 997.4M1286.9 1005.5L1331 1004.3M1286.2 1012.8L1330.3 1011.8M1285.5 1019.6L1329.6 1018.6M1284.7 1026.9L1328.9 1026.1M1284 1033.7L1328.2 1033M1283.2 1041L1327.3 1040.5M1282.4 1047.7L1326.6 1047.4M1281.6 1055L1325.7 1054.9M1280.7 1061.6L1324.8 1061.9M1279.7 1068.8L1323.8 1069.5M1278.8 1075.4L1322.9 1076.4M1277.7 1082.6L1321.8 1083.9M1276.6 1089.2L1320.7 1090.9M1275.4 1096.5L1319.5 1098.3M1274.3 1103.1L1318.4 1105.2M1273 1110.4L1317.1 1112.6M1271.8 1117.1L1315.9 1119.4M1270.5 1124.4L1314.6 1126.8M1269.3 1131.1L1313.4 1133.5M1268 1138.5L1312.1 1140.8M1266.8 1145.2L1310.9 1147.6M1265.5 1152.4L1309.6 1155M1264.3 1159.1L1308.3 1161.9M1262.9 1166.3L1306.9 1169.3M1261.6 1172.9L1305.6 1176.1M1260.1 1180.2L1304.1 1183.4M1258.8 1186.9L1302.8 1190.2M1257.3 1194.2L1301.3 1197.5M1256 1200.9L1300 1204.2M1254.5 1208.2L1298.5 1211.5M1253.2 1214.8L1297.2 1218.3M1251.7 1222.1L1295.7 1225.6M1250.3 1228.7L1294.3 1232.4M1248.8 1236L1292.7 1239.8M1247.4 1242.6L1291.3 1246.5M1245.8 1249.9L1289.8 1253.8M1244.3 1256.5L1288.3 1260.6M1242.8 1263.8L1286.7 1267.9M1241.3 1270.5L1285.2 1274.6M1239.7 1277.7L1283.6 1281.9M1238.2 1284.4L1282.2 1288.6M1236.6 1291.6L1280.5 1295.9M1235.1 1298.2L1279 1302.7M1233.5 1305.4L1277.4 1310M1231.9 1311.9L1275.8 1316.8M1230.2 1319L1274 1324.2M1228.6 1325.5L1272.3 1331M1226.7 1332.5L1270.4 1338.5M1225 1338.9L1268.6 1345.3M1223 1345.9L1266.6 1352.6M1221.1 1352.4L1264.7 1359.3M1219.1 1359.5L1262.7 1366.5M1217.2 1366L1260.7 1373.2M1215.1 1373.1L1258.6 1380.3M1213.2 1379.7L1256.7 1386.9M1211 1386.9L1254.6 1394M1209.1 1393.6L1252.7 1400.5M1207.1 1400.8L1250.7 1407.6M1205.2 1407.4L1248.8 1414.2M1203.1 1414.5L1246.8 1421.4M1201.3 1421.1L1244.9 1428M1199.2 1428.3L1242.8 1435.1M1197.3 1434.9L1240.9 1441.7" fill="none" stroke="#4a4544" stroke-width="6.8" stroke-linecap="round"/>
<path d="M1291.3 861.2L1341.1 856.2M1291.1 875.6L1340.8 870.4M1290.8 889.9L1340.5 884.7M1290.5 904.1L1340.2 899.1M1290.1 918.2L1339.9 913.6M1289.8 932.7L1339.5 927.7M1289.2 946.1L1339 942.8M1288.1 959.8L1338.1 957.7M1286.9 973.9L1336.9 972.1M1285.7 988L1335.6 986.4M1284.3 1002.1L1334.3 1000.8M1282.9 1016.3L1332.9 1015.1M1281.5 1030.4L1331.4 1029.5M1279.9 1044.4L1329.9 1043.9M1278.2 1058.3L1328.2 1058.4M1276.3 1072L1326.3 1073M1274.2 1085.8L1324.2 1087.5M1271.9 1099.7L1321.8 1101.9M1269.5 1113.6L1319.4 1116.2M1267 1127.6L1316.9 1130.3M1264.5 1141.7L1314.4 1144.3M1262 1155.6L1311.9 1158.6M1259.3 1169.4L1309.2 1172.9M1256.6 1183.3L1306.4 1187M1253.7 1197.3L1303.6 1201.1M1250.9 1211.3L1300.8 1215.1M1248.1 1225.2L1297.9 1229.3M1245.2 1239.1L1294.9 1243.4M1242.2 1252.9L1291.9 1257.5M1239.1 1266.9L1288.9 1271.5M1236.1 1280.8L1285.8 1285.5M1233 1294.6L1282.7 1299.6M1229.8 1308.3L1279.5 1313.7M1226.5 1321.9L1276.1 1328M1223 1335.3L1272.4 1342.3M1219.2 1348.7L1268.6 1356.4M1215.3 1362.3L1264.6 1370.3M1211.2 1375.9L1260.5 1384.1M1207.2 1389.8L1256.5 1397.7M1203.3 1403.6L1252.6 1411.4M1199.3 1417.4L1248.7 1425.1M1195.4 1431.1L1244.8 1438.9" fill="none" stroke="#4a4544" stroke-width="5" stroke-linecap="butt"/>
<path d="M1295.5 867.9L1336.5 863.8M1295.3 882.3L1336.3 878M1295 896.5L1336 892.3M1294.7 910.7L1335.7 906.8M1294.3 925.2L1335.3 920.9M1293.9 939.1L1335 935.6M1293.1 952.7L1334.2 950.6M1291.9 966.6L1333.1 965.1M1290.7 980.8L1331.9 979.4M1289.4 995L1330.6 993.7M1288 1009.1L1329.2 1008.1M1286.6 1023.2L1327.8 1022.4M1285.1 1037.3L1326.3 1036.8M1283.5 1051.3L1324.7 1051.2M1281.7 1065.2L1322.9 1065.7M1279.7 1079L1320.9 1080.1M1277.5 1092.9L1318.6 1094.5M1275.1 1106.8L1316.3 1108.8M1272.6 1120.8L1313.8 1123M1270.1 1134.9L1311.3 1137.1M1267.6 1148.9L1308.8 1151.2M1265 1162.8L1306.2 1165.5M1262.3 1176.7L1303.4 1179.7M1259.5 1190.6L1300.6 1193.7M1256.7 1204.6L1297.8 1207.8M1253.9 1218.6L1295 1221.9M1251 1232.5L1292.1 1236M1248 1246.4L1289.1 1250M1245 1260.3L1286 1264.1M1242 1274.2L1283 1278.1M1238.9 1288.1L1279.9 1292.1M1235.8 1301.9L1276.7 1306.2M1232.5 1315.6L1273.4 1320.3M1229.1 1329.2L1269.9 1334.6M1225.4 1342.6L1266.2 1348.7M1221.6 1356.2L1262.3 1362.7M1217.6 1369.8L1258.2 1376.5M1213.5 1383.5L1254.2 1390.3M1209.5 1397.4L1250.3 1403.8M1205.6 1411.2L1246.3 1417.6M1201.7 1424.9L1242.4 1431.3M1197.8 1438.7L1238.5 1445.1" fill="none" stroke="#fff" stroke-width="2.3" stroke-linecap="round"/>
<path d="M1299.2 860.4L1333.2 857M1298.9 874.8L1332.9 871.2M1298.6 889.1L1332.7 885.5M1298.3 903.3L1332.4 899.9M1297.9 917.5L1332 914.3M1297.6 931.9L1331.7 928.5M1297 945.6L1331.2 943.4M1296 959.4L1330.2 958M1294.8 973.6L1329 972.4M1293.5 987.8L1327.7 986.7M1292.2 1001.9L1326.4 1001M1290.8 1016.1L1325 1015.3M1289.3 1030.2L1323.6 1029.6M1287.8 1044.3L1322 1044M1286.1 1058.3L1320.3 1058.4M1284.2 1072.2L1318.4 1072.8M1282.1 1086.1L1316.3 1087.2M1279.8 1100L1314 1101.5M1277.4 1114L1311.6 1115.8M1274.9 1128L1309.1 1129.9M1272.4 1142.1L1306.6 1143.9M1269.8 1156L1304 1158.2M1267.2 1169.9L1301.3 1172.3M1264.4 1183.9L1298.5 1186.5M1261.6 1197.9L1295.7 1200.5M1258.8 1211.9L1292.9 1214.5M1255.9 1225.8L1290 1228.6M1253 1239.7L1287.1 1242.7M1250 1253.6L1284.1 1256.8M1246.9 1267.6L1281.1 1270.8M1243.9 1281.5L1278 1284.8M1240.8 1295.4L1274.9 1298.8M1237.6 1309.2L1271.7 1312.9M1234.3 1322.9L1268.3 1327M1230.7 1336.4L1264.6 1341.2M1226.9 1349.9L1260.8 1355.2M1223 1363.6L1256.8 1369M1219 1377.2L1252.8 1382.8M1214.9 1391L1248.8 1396.4M1211 1404.8L1244.9 1410.2M1207.1 1418.6L1240.9 1423.9M1203.2 1432.3L1237 1437.7" fill="none" stroke="#fff" stroke-width="2.0" stroke-linecap="round"/>
</g>
<polygon points="1355,418 1350,698 1398,698 1398,716 1437,716 1430,405" fill="#fff" stroke="none" stroke-width="0" stroke-linejoin="round"/>
<path d="M1355.3 421 L1350.8 698" fill="none" stroke="#4a4544" stroke-width="4.1" stroke-linejoin="round" stroke-linecap="round" />
<path d="M1362.7 414.5 L1359.3 698" fill="none" stroke="#4a4544" stroke-width="4.8" stroke-linejoin="round" stroke-linecap="round" />
<path d="M1422 403.5 L1428 713" fill="none" stroke="#4a4544" stroke-width="4.6" stroke-linejoin="round" stroke-linecap="round" />
<path d="M1429.4 407 L1436.8 712 Q1436.9 715 1434 715 H1420" fill="none" stroke="#4a4544" stroke-width="4.1" stroke-linejoin="round" stroke-linecap="round" />
<path d="M1422.6 716 V794 Q1422.6 797 1419.6 797 H1398" fill="none" stroke="#4a4544" stroke-width="4.1" stroke-linejoin="round" stroke-linecap="round" />
<path d="M1432 717 L1427.6 783 M1426.8 717 L1425 783" fill="none" stroke="#4a4544" stroke-width="2.6" stroke-linejoin="round" stroke-linecap="round" />
<path d="M1399 804.8 H1420.6 V798" fill="none" stroke="#4a4544" stroke-width="3.2" stroke-linejoin="round" stroke-linecap="round" />
<polygon points="1381.5,816 1398,800 1398,993.5 1381.5,993.5" fill="#fff" stroke="none" stroke-width="0" stroke-linejoin="round"/>
<polygon points="1398,797 1422.6,797 1422.6,716 1398,716" fill="#fff" stroke="none" stroke-width="0" stroke-linejoin="round"/>
<path d="M1381.5 822 V993.5 H1398 V805" fill="none" stroke="#4a4544" stroke-width="4.1" stroke-linejoin="round" stroke-linecap="round" />
<polygon points="1332,698.3 1398,698.3 1398,816 1315.2,816 1315.2,760.4" fill="#fff" stroke="none" stroke-width="0" stroke-linejoin="round"/>
<path d="M1315.2 815 V760.4 L1332 698.3 H1398 V830" fill="none" stroke="#4a4544" stroke-width="4.1" stroke-linejoin="round" stroke-linecap="round" />
<path d="M1190.6 816.3 H1375.5 Q1381.5 816.3 1381.5 822.3" fill="none" stroke="#4a4544" stroke-width="4.1" stroke-linejoin="round" stroke-linecap="round" />
<polygon points="1273.2,816.3 1359.4,816.3 1359.4,831 1353,840.3 1279.6,840.3 1273.2,831" fill="#fff" stroke="none" stroke-width="0" stroke-linejoin="round"/>
<path d="M1273.2 816.3 V831 L1279.6 840.3 H1353 L1359.4 831 V816.3" fill="none" stroke="#4a4544" stroke-width="4.1" stroke-linejoin="round" stroke-linecap="round" />
<clipPath id="cln"><rect x="1268" y="815" width="97" height="26.5"/></clipPath>
<g clip-path="url(#cln)"><ellipse cx="1316.6" cy="826.4" rx="18.7" ry="10.4" fill="#fff" stroke="#4a4544" stroke-width="4"/>
<ellipse cx="1282.2" cy="826.6" rx="8.9" ry="10.8" fill="none" stroke="#4a4544" stroke-width="4"/>
<ellipse cx="1350.3" cy="826.6" rx="8.9" ry="10.8" fill="none" stroke="#4a4544" stroke-width="4"/></g>
<path d="M1190.6 816.3 H1375.5" fill="none" stroke="#4a4544" stroke-width="4.1" stroke-linejoin="round" stroke-linecap="round" />
<rect x="1289.6" y="840.3" width="53.2" height="29" fill="#fff" stroke="#4a4544" stroke-width="4.1" stroke-linejoin="round"/>
<line x1="1397.7" y1="570.7" x2="1397.7" y2="697" stroke="#4a4544" stroke-width="4.1" stroke-linecap="round"/>
<line x1="1189" y1="583.4" x2="1392" y2="583.4" stroke="#4a4544" stroke-width="4.1" stroke-linecap="round"/>
<polygon points="1172.8,583.4 1201.8,578.2 1201.8,588.6" fill="#4a4544" stroke="none" stroke-width="0" stroke-linejoin="round"/>
<polygon points="1408.7,583.4 1379.7,588.6 1379.7,578.2" fill="#4a4544" stroke="none" stroke-width="0" stroke-linejoin="round"/>
<polygon points="1304,329 1468,286 1491,387.5 1323.6,419" fill="#fff" stroke="none" stroke-width="0" stroke-linejoin="round"/>
<path d="M1349.5 414.4 L1323.6 419 L1304 329 L1468 286.5 L1491 387.5 L1437 398.4" fill="none" stroke="#4a4544" stroke-width="4.1" stroke-linejoin="round" stroke-linecap="round" />
<path d="M1349.5 414.4 Q1355 413.6 1355.3 421 M1437 398.4 Q1430 399.8 1429.4 407" fill="none" stroke="#4a4544" stroke-width="4.1" stroke-linejoin="round" stroke-linecap="round" />
<path d="M1306.3 336.6 L1469.8 296.2" fill="none" stroke="#4a4544" stroke-width="5.2" stroke-linejoin="round" stroke-linecap="round" />
<path d="M1322.3 410.9 L1489 382.4" fill="none" stroke="#4a4544" stroke-width="4.8" stroke-linejoin="round" stroke-linecap="round" />
<path d="M1307 346 L1250 483 L1264 492 L1300.5 404.5" fill="none" stroke="#4a4544" stroke-width="4.1" stroke-linejoin="round" stroke-linecap="round" />
<path d="M1300.5 403.5 L1320 400.8" fill="none" stroke="#4a4544" stroke-width="5" stroke-linejoin="round" stroke-linecap="round" />
<text x="1279.6" y="576" text-anchor="middle">64</text>
<text transform="translate(921.6 754.8) rotate(-90)" text-anchor="middle">75</text>
<text transform="translate(1004.8 757.6) rotate(-90)" text-anchor="middle">44</text>
</g>
</svg></body></html>
